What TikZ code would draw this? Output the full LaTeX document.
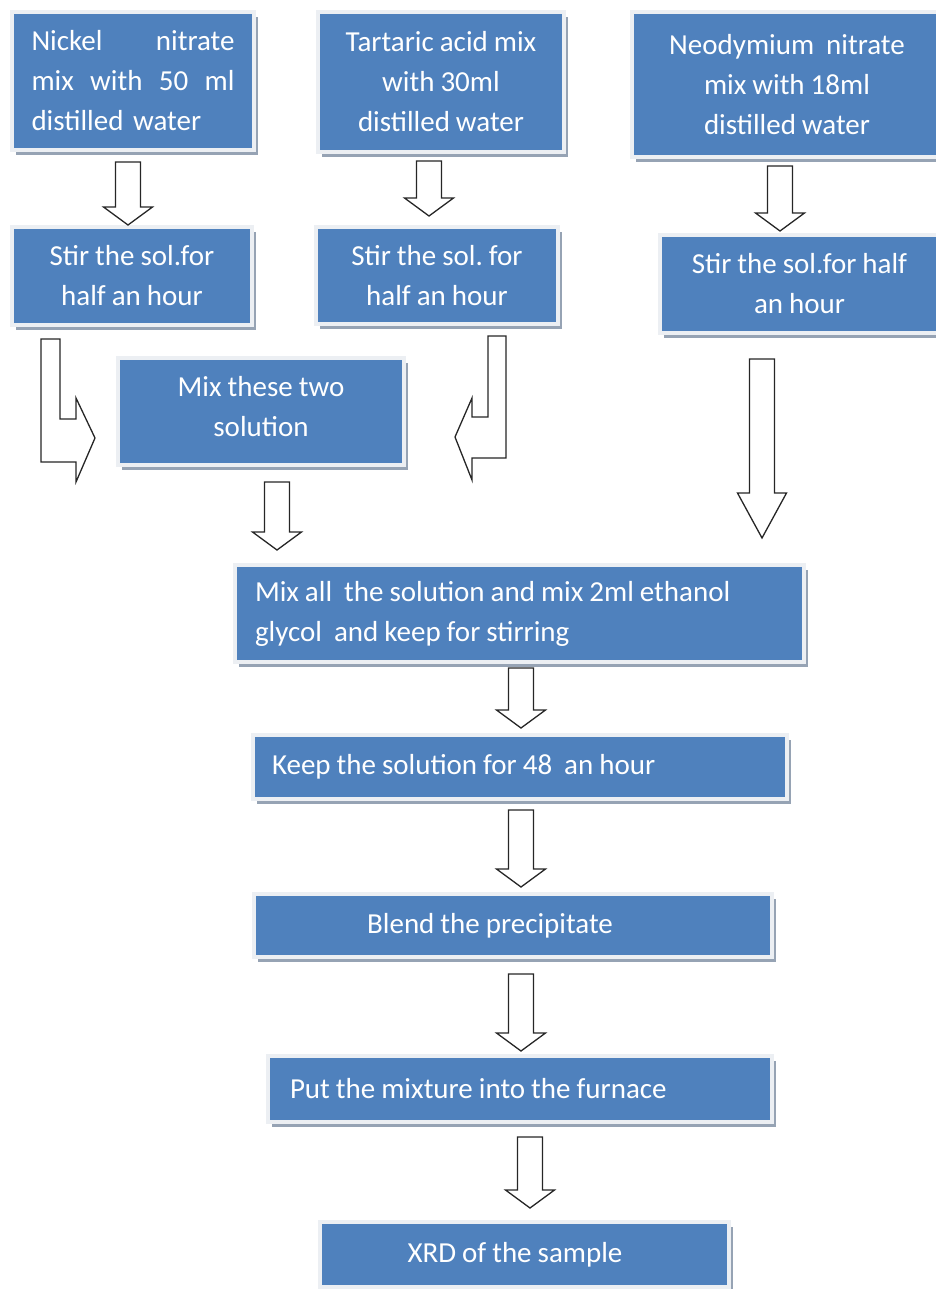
\documentclass[tikz,border=0pt]{standalone}
\usepackage{fontspec}
\setmainfont{Carlito}
\usepackage{tikz}
\usetikzlibrary{calc}
\usetikzlibrary{shadows}

\definecolor{boxblue}{RGB}{79,129,189}
\definecolor{boxrim}{RGB}{236,239,243}
\definecolor{boxshade}{RGB}{150,163,180}

% narrow word spaces, as in the scanned chart
\newcommand{\tightsp}{\spaceskip=6pt plus 1pt minus 1pt\xspaceskip=6pt\relax}

% hollow block arrow pointing down: [head length]{x}{from}{gap}{to}{gap}
\newcommand{\downblock}[6][18]{%
  \draw[blockarrow] let \p1=(#3.south), \p2=(#5.north) in
    (#2pt-12.5pt,\y1-#4pt) -- (#2pt+12.5pt,\y1-#4pt)
    -- (#2pt+12.5pt,\y2+#6pt+#1pt) -- (#2pt+24.5pt,\y2+#6pt+#1pt)
    -- (#2pt,\y2+#6pt) -- (#2pt-24.5pt,\y2+#6pt+#1pt)
    -- (#2pt-12.5pt,\y2+#6pt+#1pt) -- cycle;}

\begin{document}
\begin{tikzpicture}[x=1pt,y=-1pt]

\tikzset{
  % blue step box with light rim and grey shadow
  stepbox/.style={
    fill=boxblue, draw=boxrim, line width=4pt, text=white,
    font={\fontsize{29}{40}\selectfont\tightsp}, inner sep=0pt,
    general shadow={fill=boxshade, shadow xshift=4pt, shadow yshift=-5pt}
  },
  % hollow arrow
  blockarrow/.style={draw=black!85, fill=white, line width=1.3pt},
}

\useasboundingbox (0,0) rectangle (935,1289);

% first row
\node[stepbox, minimum width=242pt, minimum height=138pt, text width=203pt, align=left]
  (nickel) at (133,81) {Nickel\hfill nitrate\\mix\hfill with\hfill 50\hfill ml\\distilled water};
\node[stepbox, minimum width=246pt, minimum height=140pt, align=center]
  (tartaric) at (441,82) {Tartaric acid mix\\with 30ml\\distilled water};
\node[stepbox, minimum width=310pt, minimum height=145pt, align=center]
  (neodym) at (787,84.5) {Neodymium\ \ nitrate\\mix with 18ml\\distilled water};

% stirring
\node[stepbox, minimum width=240pt, minimum height=98pt, align=center]
  (stirA) at (132,276) {Stir the sol.for\\half an hour};
\node[stepbox, minimum width=242pt, minimum height=97pt, align=center]
  (stirB) at (437,275.5) {Stir the sol. for\\half an hour};
\node[stepbox, minimum width=279pt, minimum height=98pt, align=center]
  (stirC) at (799.5,284) {Stir the sol.for half\\an hour};

\node[stepbox, minimum width=286pt, minimum height=107pt, align=center]
  (mixtwo) at (261,411.5) {Mix these two\\solution\\[-30pt]};

% main column
\node[stepbox, minimum width=569pt, minimum height=97pt, inner xsep=20pt, text width=529pt, align=left]
  (mixall) at (519.5,613.5) {\tightsp Mix all\ \ the solution and mix 2ml ethanol\\glycol\ \ and keep for stirring};
\node[stepbox, minimum width=534pt, minimum height=64pt, inner xsep=19pt, text width=496pt, align=left]
  (keep) at (520,767) {\tightsp Keep the solution for 48\ \ an hour};
\node[stepbox, minimum width=518pt, minimum height=63pt]
  (blend) at (513,925.5) {\hspace*{-46pt}Blend the precipitate};
\node[stepbox, minimum width=504pt, minimum height=66pt, inner xsep=22pt, text width=460pt, align=left]
  (put) at (520,1089) {\tightsp Put the mixture into the furnace};
\node[stepbox, minimum width=409pt, minimum height=65pt]
  (xrd) at (524.5,1254.5) {\hspace*{-19pt}XRD of the sample};

% straight arrows
\downblock{128}{nickel}{10}{stirA}{0}
\downblock{429}{tartaric}{7}{stirB}{9}
\downblock{780}{neodym}{7}{stirC}{2}
\downblock[45]{762}{stirC}{24}{mixall}{25}
\downblock{277}{mixtwo}{15}{mixall}{13}
\downblock{521}{mixall}{4}{keep}{5}
\downblock{521}{keep}{9}{blend}{5}
\downblock{521}{blend}{15}{put}{3}
\downblock{530}{put}{13}{xrd}{12}

% bent arrows into the mixing box
\draw[blockarrow] let \p1=(stirA.south), \p2=(mixtwo.west) in
  (41pt,\y1-12pt) -- (41pt,\y2-50.5pt) -- (\x2-40pt,\y2-50.5pt)
  -- (\x2-40pt,\y2-70.5pt) -- (\x2-21pt,\y2-26.5pt) -- (\x2-40pt,\y2+13.5pt)
  -- (\x2-40pt,\y2-7.5pt) -- (60pt,\y2-7.5pt) -- (60pt,\y1-12pt) -- cycle;
\draw[blockarrow] let \p1=(stirB.south), \p2=(mixtwo.east) in
  (506pt,\y1-10pt) -- (506pt,\y2-46.5pt) -- (\x2+66pt,\y2-46.5pt)
  -- (\x2+66pt,\y2-68.5pt) -- (\x2+49pt,\y2-25.5pt) -- (\x2+66pt,\y2+13.5pt)
  -- (\x2+66pt,\y2-5.5pt) -- (488pt,\y2-5.5pt) -- (488pt,\y1-10pt) -- cycle;

\end{tikzpicture}
\end{document}
